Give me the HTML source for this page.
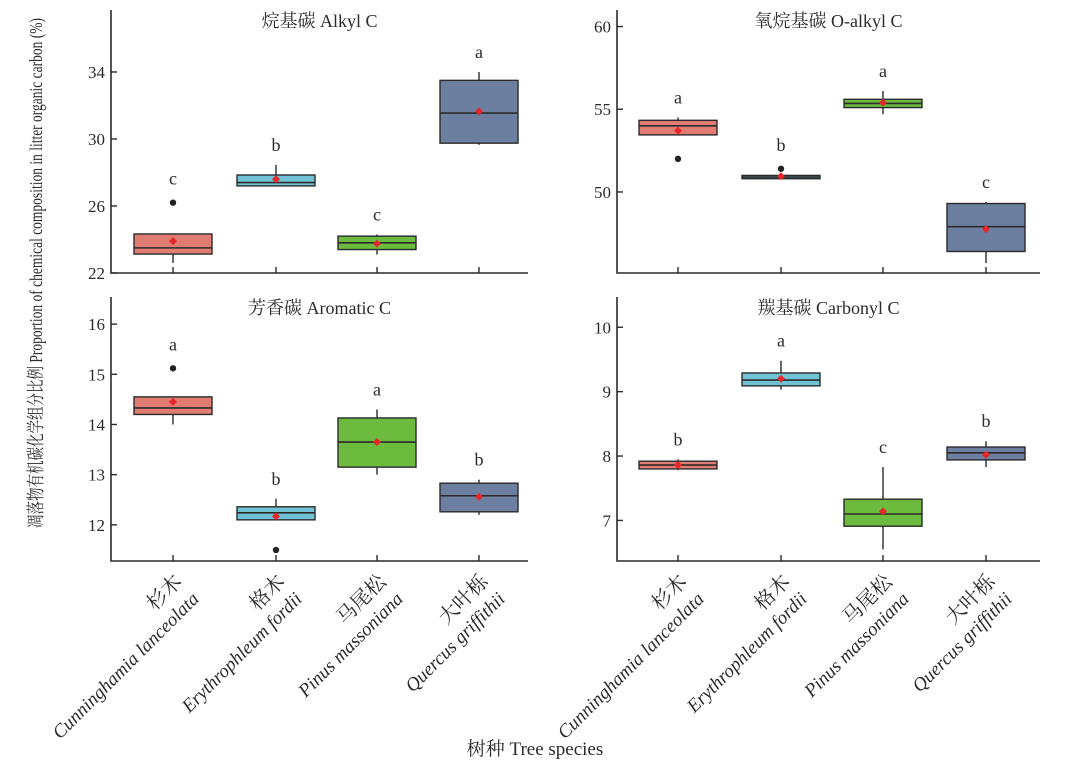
<!DOCTYPE html>
<html><head><meta charset="utf-8"><style>
body{margin:0;background:#fff;}
svg{display:block;font-family:"Liberation Serif","Noto Serif CJK SC",serif;}
</style></head><body>
<svg id="chart" width="1073" height="772" viewBox="0 0 1073 772" xmlns="http://www.w3.org/2000/svg"></svg>
<script>
const categories=["Cunninghamia lanceolata","Erythrophleum fordii","Pinus massoniana","Quercus griffithii"];
const catCN=["杉木","格木","马尾松","大叶栎"];
const panelTitles=["烷基碳 Alkyl C","氧烷基碳 O-alkyl C","芳香碳 Aromatic C","羰基碳 Carbonyl C"];
const colors=["#e17c72","#70c3d4","#6cbb3e","#6d7fa1"];
// per panel: [whiskerLow, q1, median, q3, whiskerHigh, mean, outliers]
const alkylStats=[[22.6,23.13,23.5,24.33,24.33,23.9,[26.2]],[27.2,27.2,27.4,27.85,28.45,27.6,[]],[23.1,23.4,23.8,24.2,24.3,23.75,[]],[29.65,29.75,31.55,33.5,34.0,31.65,[]]];
const oalkylStats=[[53.45,53.45,54.0,54.33,54.5,53.7,[52.0]],[50.8,50.8,50.9,51.0,51.0,50.95,[51.4]],[54.7,55.1,55.35,55.6,56.1,55.4,[]],[45.7,46.4,47.9,49.3,49.4,47.75,[]]];
const aromaticStats=[[14.0,14.2,14.33,14.55,14.55,14.45,[15.12]],[12.1,12.1,12.24,12.36,12.52,12.17,[11.5]],[13.0,13.15,13.65,14.13,14.3,13.65,[]],[12.2,12.26,12.58,12.83,12.9,12.56,[]]];
const carbonylStats=[[7.78,7.8,7.86,7.92,7.95,7.86,[]],[9.03,9.09,9.18,9.29,9.48,9.2,[]],[6.55,6.91,7.1,7.33,7.83,7.14,[]],[7.83,7.94,8.05,8.14,8.23,8.02,[]]];
const letters=[["c","b","c","a"],["a","b","a","c"],["a","b","a","b"],["b","a","c","b"]];
const ticks=[[22,26,30,34],[50,55,60],[12,13,14,15,16],[7,8,9,10]];
const panels=[
 {stats:alkylStats,x0:111,x1:528,y0:10,y1:273,vmin:22,vmax:37.7,cx:[173,276,377,479]},
 {stats:oalkylStats,x0:617,x1:1040,y0:10,y1:273,vmin:45.1,vmax:61.0,cx:[678,781,883,986]},
 {stats:aromaticStats,x0:111,x1:528,y0:297,y1:561,vmin:11.28,vmax:16.54,cx:[173,276,377,479]},
 {stats:carbonylStats,x0:617,x1:1040,y0:297,y1:561,vmin:6.37,vmax:10.47,cx:[678,781,883,986]}
];
const NS="http://www.w3.org/2000/svg";
const svg=document.getElementById("chart");
function mk(tag,attrs,parent){const e=document.createElementNS(NS,tag);for(const k in attrs)e.setAttribute(k,attrs[k]);(parent||svg).appendChild(e);return e;}
const ink="#2b2b2b";
panels.forEach((p,pi)=>{
 const g=mk("g",{});
 
 
 const y=v=>p.y1-(v-p.vmin)/(p.vmax-p.vmin)*(p.y1-p.y0);
 const ax=mk("path",{d:`M${p.x0} ${p.y0}V${p.y1}H${p.x1}`,fill:"none",stroke:ink,"stroke-width":1.6},g);
 
 
 ticks[pi].forEach(t=>{
  mk("line",{x1:p.x0,x2:p.x0+6,y1:y(t),y2:y(t),stroke:ink,"stroke-width":1.4},g);
  const tl=mk("text",{x:p.x0-6,y:y(t)+6,"text-anchor":"end","font-size":17,fill:ink},g);
  tl.textContent=t;
  
  
 });
 const tt=mk("text",{x:(p.x0+p.x1)/2,y:p.y0+17,"text-anchor":"middle","font-size":18,fill:ink},g);
 tt.textContent=panelTitles[pi];
 
 
 p.stats.forEach((s,i)=>{
  const cx=p.cx[i],w=39;
  mk("line",{x1:cx,x2:cx,y1:p.y1,y2:p.y1-6,stroke:ink,"stroke-width":1.4},g);
  const bg=mk("g",{},g);
  
  
  mk("line",{x1:cx,x2:cx,y1:y(s[0]),y2:y(s[4]),stroke:ink,"stroke-width":1.4},bg);
  mk("rect",{x:cx-w,y:y(s[3]),width:2*w,height:Math.max(1,y(s[1])-y(s[3])),fill:colors[i],stroke:ink,"stroke-width":1.4},bg);
  mk("line",{x1:cx-w,x2:cx+w,y1:y(s[2]),y2:y(s[2]),stroke:ink,"stroke-width":1.6},bg);
  const m=mk("path",{d:`M${cx} ${y(s[5])-4}L${cx+4} ${y(s[5])}L${cx} ${y(s[5])+4}L${cx-4} ${y(s[5])}Z`,fill:"#e8262a"},bg);
  
  
  let top=y(s[4]);
  s[6].forEach(o=>{const c=mk("circle",{cx:cx,cy:y(o),r:3.2,fill:"#222"},bg);
   
   
   top=Math.min(top,y(o)-4);});
  const lt=mk("text",{x:cx,y:top-14,"text-anchor":"middle","font-size":18,fill:ink},bg);
  lt.textContent=letters[pi][i];
  
  
  if(pi>=2){
   const lg=mk("g",{transform:`translate(${cx+10},${p.y1+22}) rotate(-45)`},g);
   
   
   const t1=mk("text",{x:0,y:0,"text-anchor":"end","font-size":20,fill:ink},lg);t1.textContent=catCN[i];
   const t2=mk("text",{x:0,y:24,"text-anchor":"end","font-size":19,"font-style":"italic",fill:ink},lg);t2.textContent=categories[i];
  }
 });
});
const yl=mk("text",{transform:"translate(42,273) rotate(-90)","text-anchor":"middle","font-size":18,fill:ink,textLength:510,lengthAdjust:"spacingAndGlyphs"});
yl.textContent="凋落物有机碳化学组分比例 Proportion of chemical composition in litter organic carbon (%)";


const xl=mk("text",{x:535,y:755,"text-anchor":"middle","font-size":19,fill:ink});
xl.textContent="树种 Tree species";


</script>
</body></html>
